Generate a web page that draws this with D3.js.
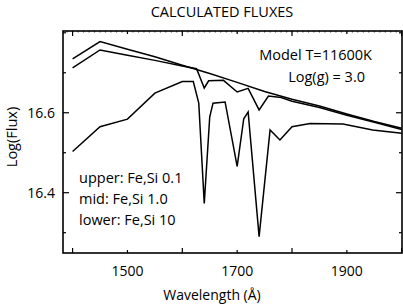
<!DOCTYPE html>
<html>
<head>
<meta charset="utf-8">
<script src="https://cdn.jsdelivr.net/npm/d3@7"></script>
<style>
  html, body { margin: 0; padding: 0; background: #fff; }
  svg { display: block; }
  text { font-family: "Open Sans", "Noto Sans", sans-serif; fill: #000; }
</style>
</head>
<body>
<svg id="chart" width="403" height="307"></svg>
<script>
// ---- data ----
const upperWl   = [1400, 1450, 1500, 1550, 1600, 1650, 1700, 1750, 1800, 1850, 1900, 1950, 2000];
const upperFlux = [16.735, 16.778, 16.759, 16.740, 16.719, 16.698, 16.676, 16.653, 16.634, 16.617, 16.597, 16.578, 16.561];

const midWl   = [1400, 1450, 1500, 1550, 1600, 1626, 1640, 1648, 1675, 1700, 1720, 1740, 1757, 1780, 1800, 1850, 1900, 1950, 2000];
const midFlux = [16.712, 16.757, 16.744, 16.731, 16.717, 16.710, 16.662, 16.680, 16.681, 16.652, 16.661, 16.607, 16.642, 16.638, 16.629, 16.613, 16.594, 16.576, 16.558];

const lowerWl   = [1400, 1450, 1500, 1550, 1600, 1620, 1630, 1640, 1650, 1656, 1678, 1700, 1712, 1720, 1740, 1760, 1778, 1800, 1833, 1893, 1947, 2000];
const lowerFlux = [16.503, 16.565, 16.584, 16.649, 16.678, 16.678, 16.624, 16.373, 16.590, 16.624, 16.627, 16.466, 16.585, 16.602, 16.290, 16.557, 16.532, 16.565, 16.573, 16.572, 16.557, 16.549];

const xTicks = [1400, 1500, 1600, 1700, 1800, 1900, 2000];
const xLabels = [1500, 1700, 1900];
const yTicks = [16.3, 16.4, 16.5, 16.6, 16.7, 16.8];
const yLabels = [16.4, 16.6];

const titleText = "CALCULATED FLUXES";
const xTitle = "Wavelength (Å)";
const yTitle = "Log(Flux)";
const modelLines = ["Model T=11600K", "Log(g) = 3.0"];
const legendLines = ["upper: Fe,Si 0.1", "mid: Fe,Si 1.0", "lower: Fe,Si 10"];

// ---- layout ----
const svg = d3.select("#chart");
const L = 63, R = 402, T = 31, B = 253;
const x = d3.scaleLinear().domain([1382.5, 2000.5]).range([L, R]);
const y = d3.scaleLinear().domain([16.2492, 16.8045]).range([B, T]);

// frame
svg.append("rect").attr("x", L).attr("y", T).attr("width", R - L).attr("height", B - T)
  .attr("fill", "none").attr("stroke", "#000").attr("stroke-width", 1.6);

// minor tick texture along top
const minorX = d3.range(1390, 2000, 10);
svg.append("g").selectAll("line").data(minorX).join("line")
  .attr("x1", d => x(d)).attr("x2", d => x(d)).attr("y1", T).attr("y2", T + 1.5)
  .attr("stroke", "#000").attr("stroke-width", 0.8);

// x axis ticks
const xt = svg.append("g");
xTicks.forEach(v => {
  const len = (v === 1500 || v === 1700 || v === 1900) ? 3 : 5;
  xt.append("line").attr("x1", x(v)).attr("x2", x(v)).attr("y1", B).attr("y2", B - len)
    .attr("stroke", "#000").attr("stroke-width", 1.2);
  xt.append("line").attr("x1", x(v)).attr("x2", x(v)).attr("y1", T).attr("y2", T + len)
    .attr("stroke", "#000").attr("stroke-width", 1.2);
});
xLabels.forEach(v => {
  xt.append("text").attr("x", x(v)).attr("y", 276).attr("text-anchor", "middle")
    .attr("font-size", 14).text(v);
});

// y axis ticks
const yt = svg.append("g");
yTicks.forEach(v => {
  const yy = y(v);
  if (yy < T || yy > B) return;
  const len = yLabels.includes(v) ? 6 : 3;
  yt.append("line").attr("x1", L).attr("x2", L + len).attr("y1", yy).attr("y2", yy)
    .attr("stroke", "#000").attr("stroke-width", 1.2);
  yt.append("line").attr("x1", R).attr("x2", R - len).attr("y1", yy).attr("y2", yy)
    .attr("stroke", "#000").attr("stroke-width", 1.2);
});
yLabels.forEach(v => {
  yt.append("text").attr("x", 55).attr("y", y(v) + 5).attr("text-anchor", "end")
    .attr("font-size", 14).text(v.toFixed(1));
});

// curves
const line = d3.line().x(d => x(d[0])).y(d => y(d[1]));
const series = [
  d3.zip(upperWl, upperFlux),
  d3.zip(midWl, midFlux),
  d3.zip(lowerWl, lowerFlux)
];
svg.append("g").selectAll("path").data(series).join("path")
  .attr("d", line).attr("fill", "none").attr("stroke", "#000")
  .attr("stroke-width", 1.5).attr("stroke-linejoin", "miter");

// texts
svg.append("text").attr("x", 222).attr("y", 17).attr("text-anchor", "middle")
  .attr("font-size", 14.5).text(titleText);
svg.append("text").attr("x", 372).attr("y", 60).attr("text-anchor", "end")
  .attr("font-size", 14.5).text(modelLines[0]);
svg.append("text").attr("x", 365).attr("y", 81.5).attr("text-anchor", "end")
  .attr("font-size", 14.5).text(modelLines[1]);
legendLines.forEach((t, i) => {
  svg.append("text").attr("x", 79).attr("y", 183 + i * 21)
    .attr("font-size", 14.5).text(t);
});
svg.append("text").attr("x", 212).attr("y", 300).attr("text-anchor", "middle")
  .attr("font-size", 14).text(xTitle);
svg.append("text").attr("transform", "translate(17,137) rotate(-90)")
  .attr("text-anchor", "middle").attr("font-size", 14.5).text(yTitle);
</script>
</body>
</html>
